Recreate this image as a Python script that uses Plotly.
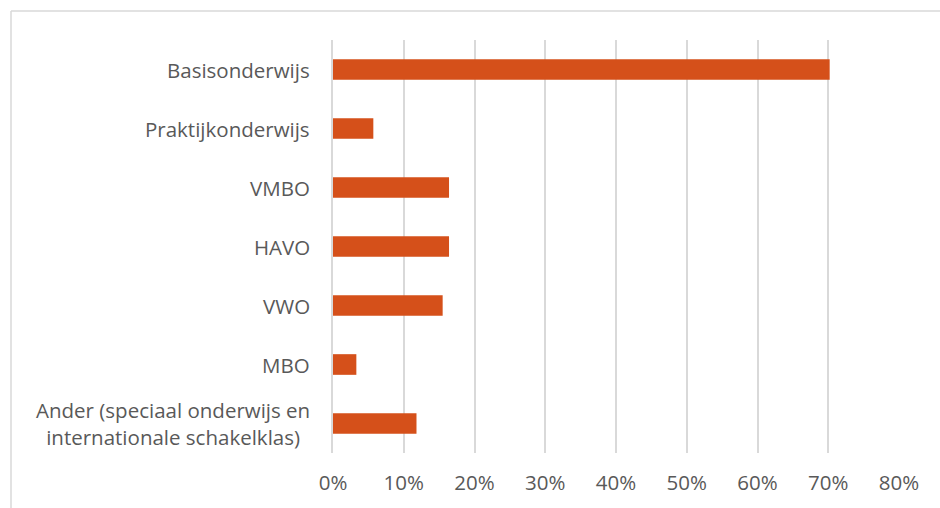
import plotly.graph_objects as go

categories = [
    "Basisonderwijs",
    "Praktijkonderwijs",
    "VMBO",
    "HAVO",
    "VWO",
    "MBO",
    "Ander (speciaal onderwijs en<br>internationale schakelklas)",
]
values = [0.702, 0.057, 0.164, 0.164, 0.155, 0.033, 0.118]
x_ticks = [0, 0.1, 0.2, 0.3, 0.4, 0.5, 0.6, 0.7, 0.8]
x_tick_labels = ["0%", "10%", "20%", "30%", "40%", "50%", "60%", "70%", "80%"]

FONT = "Open Sans"
FS = 20.5
GRAY = "#595959"
GRID = "#d9d9d9"

fig = go.Figure()
fig.add_trace(go.Bar(
    x=values,
    y=categories,
    orientation="h",
    marker=dict(color="#D5501A", line=dict(width=0)),
    hoverinfo="skip",
))

annotations = []
for c in categories:
    annotations.append(dict(
        x=0, y=c, xref="paper", yref="y", text=c, showarrow=False,
        xanchor="right", yanchor="middle", xshift=-21, align="center",
        font=dict(family=FONT, size=FS, color=GRAY),
    ))

fig.update_layout(
    width=940, height=508,
    margin=dict(l=333, r=41, t=40, b=55),
    paper_bgcolor="white", plot_bgcolor="white",
    showlegend=False,
    bargap=0.65,
    font=dict(family=FONT, size=FS, color=GRAY),
    annotations=annotations,
    shapes=[
        dict(type="line", xref="paper", yref="paper",
             x0=-322 / 566, x1=1.2, y0=1 + 29 / 413, y1=1 + 29 / 413,
             line=dict(color=GRID, width=1.5)),
        dict(type="line", xref="paper", yref="paper",
             x0=-322 / 566, x1=-322 / 566, y0=1 + 29 / 413, y1=-0.3,
             line=dict(color=GRID, width=1.5)),
    ],
)
fig.update_xaxes(
    range=[0, 0.8], tickvals=x_ticks, ticktext=x_tick_labels,
    showgrid=True, gridcolor=GRID, gridwidth=1.5,
    zeroline=False, showline=False, ticks="",
    ticklabelstandoff=15,
    tickfont=dict(family=FONT, size=FS, color=GRAY),
    fixedrange=True,
)
fig.update_yaxes(
    categoryorder="array", categoryarray=categories[::-1],
    range=[-0.5, 6.5], autorange=False,
    showticklabels=False, showgrid=False, zeroline=False,
    showline=True, linecolor=GRID, linewidth=1.5, ticks="",
    fixedrange=True,
)

fig.write_html("out.html", config={"displayModeBar": False})

with open("out.html", "r", encoding="utf-8") as f:
    html = f.read()
html = html.replace("<body>", '<body style="margin:0;padding:0;overflow:hidden">', 1)
with open("out.html", "w", encoding="utf-8") as f:
    f.write(html)
